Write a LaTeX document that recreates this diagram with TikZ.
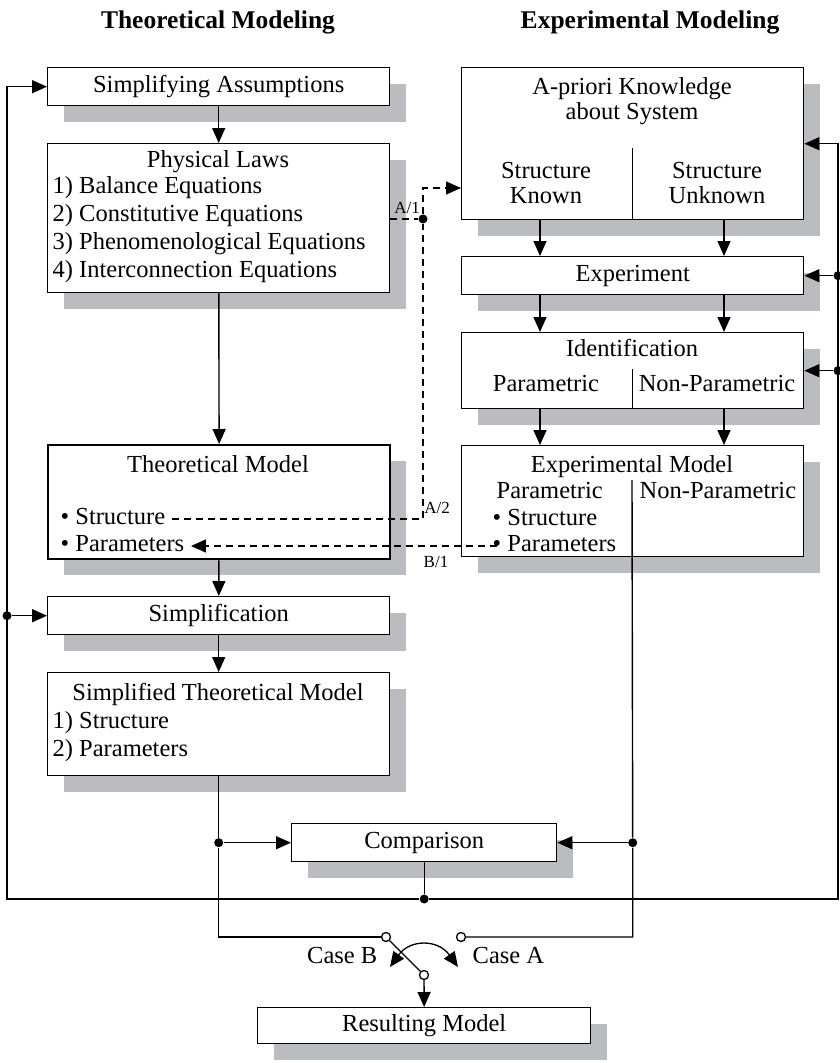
\documentclass[tikz,border=0pt]{standalone}
\usepackage{fontspec}
\setmainfont{Liberation Serif}
\usetikzlibrary{arrows.meta,shadows,positioning}
\definecolor{shadowgray}{RGB}{187,188,192}

\begin{document}
\begin{tikzpicture}[x=1pt,y=-1pt,line width=1.4pt,
        >={Triangle[length=15pt,width=13pt]}]
        \tikzstyle{box}=[draw,fill=white,anchor=north west,inner sep=0pt,
          minimum width=342pt,minimum height=38pt,
          drop shadow={shadow xshift=16pt,shadow yshift=-16pt,fill=shadowgray,opacity=1},
          font=\fontsize{24.5}{27}\selectfont,text height=17pt,text depth=5.5pt]
        \tikzstyle{txt}=[inner sep=0pt,font=\fontsize{24.5}{27}\selectfont,text height=17pt,text depth=5.5pt]
        \tikzstyle{tag}=[inner sep=0pt,font=\fontsize{17}{19}\selectfont]
        \tikzstyle{title}=[inner sep=0pt,font=\bfseries\fontsize{25.5}{28}\selectfont]
        \tikzstyle{dot}=[circle,fill,inner sep=0pt,minimum size=9pt]
        \tikzstyle{contact}=[circle,draw,fill=white,inner sep=0pt,minimum size=9pt,line width=1.3pt]
        \tikzstyle{link}=[dash pattern=on 7pt off 5pt]

        \useasboundingbox (0,0) rectangle (839,1063);

        \node[title]  (Ttheo) at (218,22)   {Theoretical Modeling};
        \node[title]  (Texp)  at (650,22)   {Experimental Modeling};

        % theoretical side
        \node[box]    (SA) at (47,67)       {Simplifying Assumptions};
        \node[box,minimum height=149pt] (PL) at (47,143) {};
        \node[txt]    (PLt) at (218,162)    {Physical Laws};
        \node[txt,anchor=west] (PL1) at (52,188) {1) Balance Equations};
        \node[txt,anchor=west] (PL2) at (52,216) {2) Constitutive Equations};
        \node[txt,anchor=west] (PL3) at (52,244) {3) Phenomenological Equations};
        \node[txt,anchor=west] (PL4) at (52,272) {4) Interconnection Equations};
        \node[box,minimum height=114pt,line width=2.4pt] (TM) at (47,444) {};
        \node[txt]    (TMt) at (218,467)    {Theoretical Model};
        \node[txt,anchor=west] (TMs) at (60,519) {\textbullet\ Structure};
        \node[txt,anchor=west] (TMp) at (60,546) {\textbullet\ Parameters};
        \node[box]    (SI) at (47,596)      {Simplification};
        \node[box,minimum height=103pt] (ST) at (47,672) {};
        \node[txt]    (STt) at (218,695)    {Simplified Theoretical Model};
        \node[txt,anchor=west] (ST1) at (52,723) {1) Structure};
        \node[txt,anchor=west] (ST2) at (52,751) {2) Parameters};

        % experimental side
        \node[box,minimum height=152pt] (AP) at (461,67) {};
        \node[txt]    (APt) at (632,89)     {A-priori Knowledge};
        \node[txt]    (APu) at (632,114)    {about System};
        \node[txt]    (APk1) at (546,173)   {Structure};
        \node[txt]    (APk2) at (546,198)   {Known};
        \node[txt]    (APu1) at (717,173)   {Structure};
        \node[txt]    (APu2) at (717,198)   {Unknown};
        \node[box]    (EX) at (461,256)     {Experiment};
        \node[box,minimum height=76pt] (ID) at (461,332) {};
        \node[txt]    (IDt) at (632,351)    {Identification};
        \node[txt]    (IDp) at (546,386)    {Parametric};
        \node[txt]    (IDn) at (717,386)    {Non-Parametric};
        \node[box,minimum height=111pt] (EM) at (461,445) {};
        \node[txt]    (EMt) at (632,467)    {Experimental Model};
        \node[txt,anchor=west] (EMp) at (496,493) {Parametric};
        \node[txt,anchor=west] (EMn) at (639,493) {Non-Parametric};
        \node[txt,anchor=west] (EMs) at (492,520) {\textbullet\ Structure};
        \node[txt,anchor=west] (EMq) at (492,546) {\textbullet\ Parameters};

        % bottom
        \node[box,minimum width=265pt] (CO) at (291,823) {Comparison};
        \node[box,minimum width=333pt,minimum height=36pt] (RM) at (257,1007) {Resulting Model};

        \coordinate (cL) at (540,0);
        \coordinate (cR) at (724,0);
        \coordinate (fbL) at (7,899);
        \coordinate (fbR) at (838,899);
        \coordinate (emDiv) at (632,480);
        \coordinate (B1) at (497,546);
        \coordinate (swL) at (390,967);
        \coordinate (swR) at (458,967);

        \node[dot] (fb) at (CO.south |- fbL) {};
        \node[dot] (dL) at (fbL |- SI.west) {};
        \node[dot] (dR1) at (fbR |- EX.east) {};
        \node[dot] (dR2) at (fbR |- ID.east) {};
        \node[dot] (jL) at (ST.south |- CO.west) {};
        \node[dot] (jR) at (EM.south |- CO.east) {};
        \node[dot] (a1) at (423,219) {};
        \node[contact] (cB) at (386,937) {};
        \node[contact] (cA) at (461,937) {};
        \node[contact] (piv) at (424,975) {};

        % dividers
        \draw (AP.south) -- ++(0,-72);
        \draw (ID.south) -- ++(0,-40);

        \path[->] (SA) edge (PL)
                  (PL) edge (TM)
                  (TM) edge (SI)
                  (SI) edge (ST);
        \draw[->] (AP.south -| cL) -- (EX.north -| cL);
        \draw[->] (AP.south -| cR) -- (EX.north -| cR);
        \draw[->] (EX.south -| cL) -- (ID.north -| cL);
        \draw[->] (EX.south -| cR) -- (ID.north -| cR);
        \draw[->] (ID.south -| cL) -- (EM.north -| cL);
        \draw[->] (ID.south -| cR) -- (EM.north -| cR);

        % outputs to comparison and switch
        \draw (ST.south) -- (jL) |- (cB);
        \draw (emDiv) -- (jR) |- (cA);
        \draw[->] (jL) -- (CO.west);
        \draw[->] (jR) -- (CO.east);
        \draw (cB) -- (piv);
        \draw[->] (piv) -- (RM);
        \draw[<->,line width=1.3pt] (swL) .. controls (410,939) and (438,939) .. (swR);
        \node[txt,anchor=east] (caseB) at (378,958) {Case B};
        \node[txt,anchor=west] (caseA) at (472,958) {Case A};

        % feedback
        \draw (CO.south) -- (fb);
        \draw[->] (fb) -- (fbL) |- (SA.west);
        \draw[->] (fb) -- (fbR) |- (AP.east);
        \draw[->] (dL) -- (SI.west);
        \draw[->] (dR1) -- (EX.east);
        \draw[->] (dR2) -- (ID.east);

        % structure and parameter links
        \draw[link] (PL.east |- a1) -- (a1);
        \draw[link,->] (a1) |- (AP.west |- 0,188);
        \draw[link] ([xshift=6pt]TMs.east) -- (a1 |- TMs.east) -- (a1);
        \draw[link,->] (B1) -- ([xshift=6pt]TMp.east);
        \node[tag] (lA1) at (407,208) {A/1};
        \node[tag] (lA2) at (437,508) {A/2};
        \node[tag] (lB1) at (436,562) {B/1};
\end{tikzpicture}
\end{document}
